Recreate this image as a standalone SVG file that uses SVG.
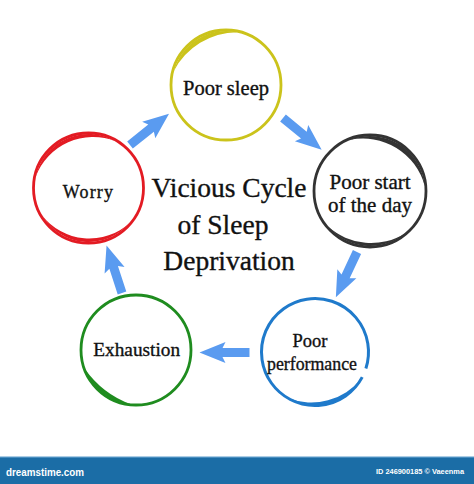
<svg xmlns="http://www.w3.org/2000/svg" xmlns:xlink="http://www.w3.org/1999/xlink" width="474" height="484" viewBox="0 0 474 484">
<style>
.lbl{font-family:"Liberation Serif","Times New Roman",serif;fill:#111;stroke:#111;stroke-width:0.35;text-anchor:middle}
.ring{fill:none}
.arrow{fill:#5a9bf0}
</style>
<defs>
<path id="arr" d="M0,-4.5 H27 L24,-10.5 L50,0 L24,10.5 L27,4.5 H0 Z"/>
</defs>
<rect width="474" height="484" fill="#ffffff"/>

<g id="connectors" class="arrow">
<use xlink:href="#arr" href="#arr" transform="translate(130,145) rotate(-38.7)"/>
<use xlink:href="#arr" href="#arr" transform="translate(283,118) rotate(39.4)"/>
<use xlink:href="#arr" href="#arr" transform="translate(357,252) rotate(115)"/>
<use xlink:href="#arr" href="#arr" transform="translate(249.5,352.5) rotate(180)"/>
<use xlink:href="#arr" href="#arr" transform="translate(122,293) rotate(252)"/>
</g>

<g id="poor-sleep">
<circle class="ring" cx="226" cy="85" r="55" stroke="#cbc31b" stroke-width="2.8"/>
<path d="M173.84,71.02 A54,54 0 0 1 237.23,32.18 A72,72 0 0 0 173.84,71.02 Z" fill="#cbc31b"/>
<text class="lbl" x="226" y="95" font-size="20.5">Poor sleep</text>
</g>

<g id="worry">
<circle class="ring" cx="88.5" cy="188" r="55" stroke="#e31b23" stroke-width="2.8"/>
<path d="M35.68,176.77 A54,54 0 0 1 115.5,141.24 A61.4,61.4 0 0 0 35.68,176.77 Z" fill="#e31b23"/>
<path d="M129.86,222.71 A54,54 0 0 1 41.74,215 A59.87,59.87 0 0 0 129.86,222.71 Z" fill="#e31b23"/>
<text class="lbl" x="88.5" y="197.5" font-size="18" letter-spacing="1.2">Worry</text>
</g>

<g id="poor-start">
<circle class="ring" cx="370" cy="191" r="56" stroke="#333333" stroke-width="2.8"/>
<path d="M349.4,140 A55,55 0 0 1 424.79,186.2 A63.83,63.83 0 0 0 349.4,140 Z" fill="#333333"/>
<path d="M405.35,233.13 A55,55 0 0 1 327.87,226.35 A64.24,64.24 0 0 0 405.35,233.13 Z" fill="#333333"/>
<text class="lbl" x="370" y="189" font-size="21">Poor start</text>
<text class="lbl" x="370" y="211.7" font-size="21">of the day</text>
</g>

<g id="poor-performance">
<path class="ring" d="M362.24,377.12 A53.5,53.5 0 1 1 365.88,368.53" stroke="#1f7acb" stroke-width="3"/>
<path d="M361.33,378.75 A53.5,53.5 0 0 1 288.25,398.33 A64.88,64.88 0 0 0 361.33,378.75 Z" fill="#1f7acb"/>
<text class="lbl" x="310" y="347" font-size="18.5">Poor</text>
<text class="lbl" x="312" y="370" font-size="18.5" textLength="90" lengthAdjust="spacingAndGlyphs">performance</text>
</g>

<g id="exhaustion">
<circle class="ring" cx="136" cy="350" r="55" stroke="#1f8c1f" stroke-width="2.8"/>
<path d="M131.25,404.29 A54.5,54.5 0 0 1 84.79,368.64 A96.9,96.9 0 0 0 131.25,404.29 Z" fill="#1f8c1f"/>
<text class="lbl" x="136.7" y="356" font-size="19.3">Exhaustion</text>
</g>

<g id="title">
<text class="lbl" x="229" y="197" font-size="27.5">Vicious Cycle</text>
<text class="lbl" x="223" y="234" font-size="27.5">of Sleep</text>
<text class="lbl" x="229" y="270" font-size="27.5">Deprivation</text>
</g>

<g id="footer">
<rect x="0" y="457" width="474" height="27" fill="#1b6da6"/>
<rect x="0" y="456.5" width="474" height="1.2" fill="#5a9ccb"/>
<text x="6" y="476" font-family="'Liberation Sans',Arial,sans-serif" font-size="11.5" font-weight="bold" fill="#ffffff" textLength="78" lengthAdjust="spacingAndGlyphs">dreamstime.com</text>
<text x="464" y="474" font-family="'Liberation Sans',Arial,sans-serif" font-size="8" font-weight="bold" fill="#ffffff" text-anchor="end" textLength="88" lengthAdjust="spacingAndGlyphs">ID 246900185 © Vaeenma</text>
</g>
</svg>
